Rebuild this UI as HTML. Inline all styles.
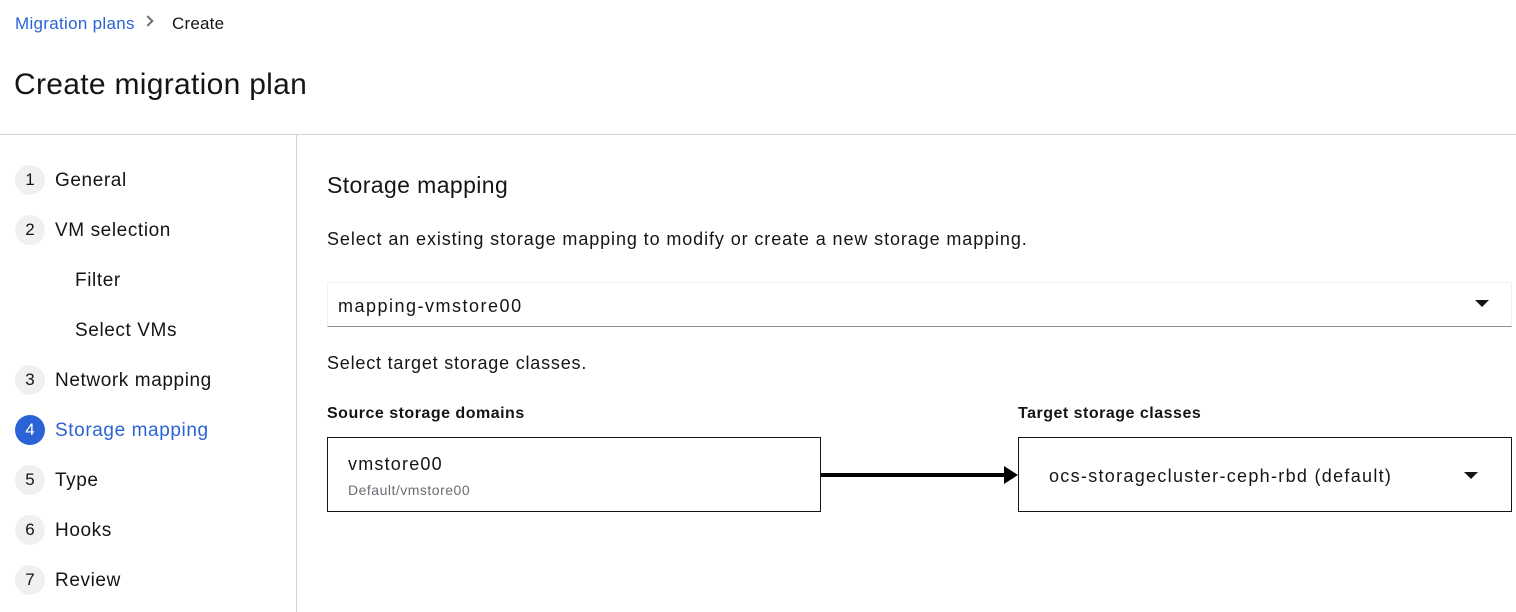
<!DOCTYPE html>
<html><head><meta charset="utf-8"><style>
*{margin:0;padding:0;box-sizing:border-box}
body{width:1516px;height:612px;background:#fff;font-family:"Liberation Sans",sans-serif;color:#151515;position:relative;overflow:hidden}
.a{position:absolute;white-space:nowrap}
.c{position:absolute;left:15px;width:30px;height:30px;border-radius:50%;background:#f0f0f0;color:#151515;font-size:17px;line-height:30px;text-align:center}
.l{position:absolute;left:55px;font-size:19px;line-height:24px;letter-spacing:0.6px}
</style></head><body>
<div class="a" style="left:15px;top:13px;font-size:17px;line-height:22px;color:#2b63d6;letter-spacing:0.3px">Migration plans</div>
<div class="a" style="left:146px;top:11px;width:8px;height:8px;border-right:2px solid #6a6e73;border-top:2px solid #6a6e73;transform:translate(-2px,6px) rotate(45deg)"></div>
<div class="a" style="left:172px;top:13px;font-size:17px;line-height:22px;letter-spacing:0.2px">Create</div>
<div class="a" style="left:14px;top:67px;font-size:30px;line-height:36px;letter-spacing:0.3px">Create migration plan</div>
<div class="a" style="left:0;top:134px;width:1516px;height:1px;background:#d2d2d2"></div>
<div class="a" style="left:296px;top:134px;width:1px;height:478px;background:#d2d2d2"></div>

<div class="c" style="top:165px">1</div><div class="l" style="top:169px">General</div>
<div class="c" style="top:215px">2</div><div class="l" style="top:219px">VM selection</div>
<div class="l" style="left:75px;top:269px">Filter</div>
<div class="l" style="left:75px;top:319px">Select VMs</div>
<div class="c" style="top:365px">3</div><div class="l" style="top:369px">Network mapping</div>
<div class="c" style="top:415px;background:#2b63d6;color:#fff">4</div><div class="l" style="top:419px;color:#2b63d6">Storage mapping</div>
<div class="c" style="top:465px">5</div><div class="l" style="top:469px">Type</div>
<div class="c" style="top:515px">6</div><div class="l" style="top:519px">Hooks</div>
<div class="c" style="top:565px">7</div><div class="l" style="top:569px">Review</div>

<div class="a" style="left:327px;top:170px;font-size:23px;line-height:30px;letter-spacing:0.4px">Storage mapping</div>
<div class="a" style="left:327px;top:227px;font-size:18px;line-height:24px;letter-spacing:0.9px">Select an existing storage mapping to modify or create a new storage mapping.</div>
<div class="a" style="left:327px;top:282px;width:1185px;height:45px;border:1px solid #f0f0f0;border-bottom:1px solid #8a8d90"></div>
<div class="a" style="left:338px;top:294px;font-size:18px;line-height:24px;letter-spacing:1.5px">mapping-vmstore00</div>
<div class="a" style="left:1475px;top:300px;width:0;height:0;border-left:7px solid transparent;border-right:7px solid transparent;border-top:7px solid #151515"></div>
<div class="a" style="left:327px;top:351px;font-size:18px;line-height:24px;letter-spacing:0.8px">Select target storage classes.</div>
<div class="a" style="left:327px;top:404px;font-size:16px;line-height:20px;font-weight:bold;letter-spacing:0.5px">Source storage domains</div>
<div class="a" style="left:1018px;top:404px;font-size:16px;line-height:20px;font-weight:bold;letter-spacing:0.5px">Target storage classes</div>
<div class="a" style="left:327px;top:437px;width:494px;height:75px;border:1px solid #151515"></div>
<div class="a" style="left:348px;top:452px;font-size:18px;line-height:24px;letter-spacing:1.2px">vmstore00</div>
<div class="a" style="left:348px;top:481px;font-size:14px;line-height:18px;color:#6a6e73;letter-spacing:0.5px">Default/vmstore00</div>
<div class="a" style="left:821px;top:473px;width:184px;height:4px;background:#000"></div>
<div class="a" style="left:1004px;top:466px;width:0;height:0;border-top:9px solid transparent;border-bottom:9px solid transparent;border-left:14px solid #000"></div>
<div class="a" style="left:1018px;top:437px;width:494px;height:75px;border:1px solid #151515"></div>
<div class="a" style="left:1049px;top:464px;font-size:18px;line-height:24px;letter-spacing:1.3px">ocs-storagecluster-ceph-rbd (default)</div>
<div class="a" style="left:1464px;top:472px;width:0;height:0;border-left:7px solid transparent;border-right:7px solid transparent;border-top:7px solid #151515"></div>
</body></html>
